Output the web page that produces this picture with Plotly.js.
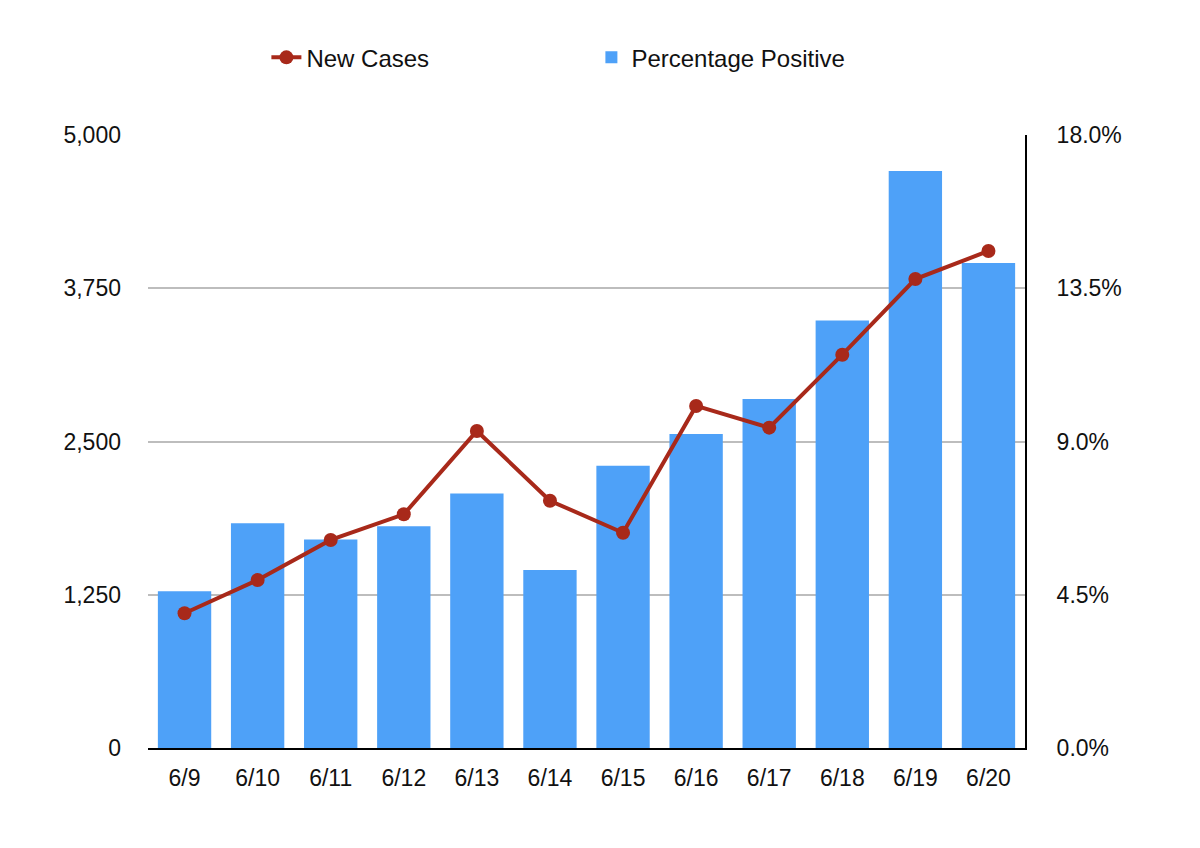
<!DOCTYPE html>
<html>
<head>
<meta charset="utf-8">
<script src="https://cdn.plot.ly/plotly-3.0.1.min.js"></script>
<style>html,body{margin:0;padding:0;background:#fff;}#chart{width:1200px;height:848px;}</style>
</head>
<body>
<div id="chart"></div>
<script>
const dates = ["6/9","6/10","6/11","6/12","6/13","6/14","6/15","6/16","6/17","6/18","6/19","6/20"];
const newCases = [1099,1370,1697,1906,2586,2017,1756,2790,2613,3208,3825,4054];
const percentPositive = [4.60,6.60,6.12,6.51,7.47,5.23,8.29,9.22,10.25,12.55,16.94,14.24];
const leftTicks = [0,1250,2500,3750,5000];
const rightTicks = [0,4.5,9,13.5,18];

const family = "Liberation Sans, Arial, Helvetica, sans-serif";
const tickFont = {family: family, size: 23, color: "#111"};
const legendFont = {family: family, size: 24, color: "#111"};

const data = [
  {
    type: "scatter", mode: "lines+markers", name: "New Cases",
    x: dates, y: newCases, yaxis: "y2",
    line: {color: "#a8291a", width: 4},
    marker: {color: "#a8291a", size: 14}
  },
  {
    type: "bar", name: "Percentage Positive",
    x: dates, y: percentPositive, yaxis: "y",
    marker: {color: "#4ea1f8"}
  }
];

const layout = {
  width: 1200, height: 848,
  margin: {l: 148, r: 175, t: 135, b: 100},
  paper_bgcolor: "#fff", plot_bgcolor: "#fff",
  font: tickFont,
  showlegend: true,
  bargap: 0.27,
  legend: {
    orientation: "h", x: 0.135, xanchor: "left", y: 1.126, yanchor: "middle",
    font: legendFont, entrywidth: 280, traceorder: "normal"
  },
  xaxis: {
    type: "category", range: [-0.5, 11.5], autorange: false,
    showgrid: false, showline: true, linecolor: "#000", linewidth: 2,
    ticks: "", tickfont: tickFont, ticklabelstandoff: 8, zeroline: false
  },
  yaxis: {
    side: "right", range: [0, 18], tickvals: rightTicks,
    ticktext: rightTicks.map(v => v.toFixed(1) + "%"),
    showgrid: true, gridcolor: "#bdbdbd", gridwidth: 2,
    showline: true, linecolor: "#000", linewidth: 2,
    zeroline: false, ticks: "", tickfont: tickFont, ticklabelstandoff: 25
  },
  yaxis2: {
    side: "left", overlaying: "y", range: [0, 5000], tickvals: leftTicks,
    tickformat: ",d", showgrid: false, showline: false, zeroline: false,
    ticks: "", tickfont: tickFont, ticklabelstandoff: 26
  }
};

Plotly.newPlot("chart", data, layout, {displayModeBar: false, staticPlot: true});
</script>
</body>
</html>
